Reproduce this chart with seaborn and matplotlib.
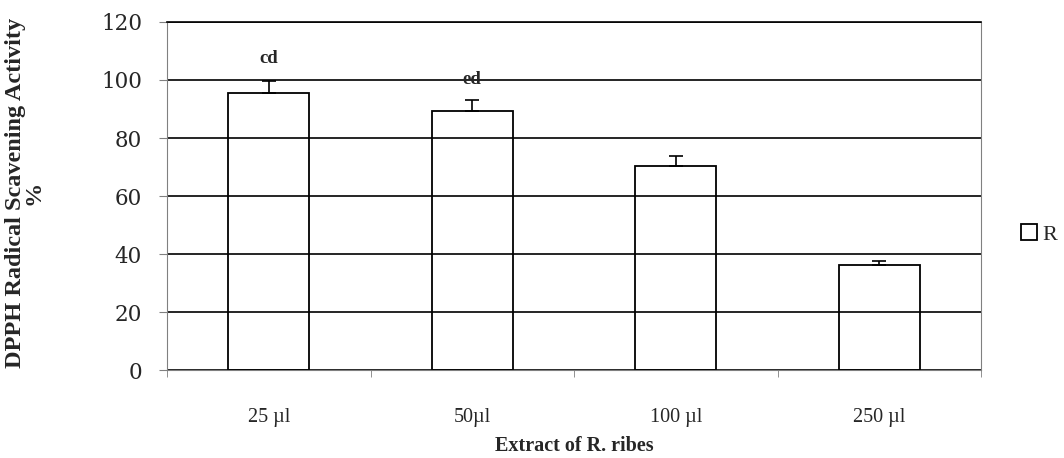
import matplotlib
matplotlib.use("Agg")
import matplotlib.pyplot as plt
import numpy as np
import pandas as pd
import seaborn as sns

categories = ["25 µl", "50µl", "100 µl", "250 µl"]
values = [95.5, 89.3, 70.4, 36.1]
errors = [4.2, 3.8, 3.4, 1.6]
letters = ["cd", "ed", "", ""]
letter_y = [107.5, 100.0, None, None]
series = ["R"] * 4

df = pd.DataFrame({"dose": categories, "activity": values, "series": series})

sns.set_style("white")
plt.rcParams["font.family"] = ["Liberation Serif", "DejaVu Serif"]

fig = plt.figure(figsize=(10.64, 4.58), dpi=100)
ax = fig.add_axes([0.157, 0.192, 0.765, 0.760])

sns.barplot(data=df, x="dose", y="activity", hue="series", order=categories,
            fill=False, palette=["black"], width=0.4,
            linewidth=1.3, ax=ax, legend=True)
# bars are see-through in the original, grid shows across them
for p in ax.patches:
    p.set_facecolor("none")

# upper-only error bars
centers = [p.get_x() + p.get_width() / 2 for p in ax.patches[:len(values)]]
ax.errorbar(centers, values, yerr=[np.zeros(len(errors)), errors], fmt="none",
            ecolor="black", elinewidth=1.2, capsize=5, capthick=1.2)

for x, lab, ly in zip(centers, letters, letter_y):
    if lab:
        ax.text(x, ly, lab, ha="center", va="center", fontsize=13.5, fontweight="bold")

ax.set_ylim(0, 120)
ax.set_xlim(-0.5, len(categories) - 0.5)
ax.set_yticks(range(0, 121, 20))
ax.yaxis.grid(True, color="black", linewidth=1.2)

for s in ["left", "bottom", "right"]:
    ax.spines[s].set_color("#808080")
ax.spines["top"].set_color("black")
ax.spines["top"].set_linewidth(1.2)

ax.tick_params(axis="y", which="major", direction="out", length=6, color="#808080",
               pad=12, left=True)
for t in ax.get_yticklabels():
    t.set_family("DejaVu Serif")
    t.set_fontsize(15.5)
ax.tick_params(axis="x", which="major", length=0, labelsize=14.5, pad=27)
ax.set_xticks(np.arange(-0.5, len(categories), 1.0), minor=True)
ax.tick_params(axis="x", which="minor", direction="out", length=5, color="#808080", bottom=True)

ax.set_xlabel("Extract of R. ribes", fontsize=14.5, fontweight="bold")
ax.xaxis.set_label_coords(0.5, -0.19)
ax.set_ylabel("DPPH Radical Scavening Activity\n%", fontsize=17.5, fontweight="bold",
              linespacing=0.85)
ax.yaxis.set_label_coords(-0.150, 0.51)

sns.move_legend(ax, "center left", bbox_to_anchor=(1.025, 0.39), title=None,
                frameon=False, fontsize=16, handlelength=0.7, handleheight=0.7,
                handletextpad=0.25)

fig.savefig("out.png", dpi=100)
